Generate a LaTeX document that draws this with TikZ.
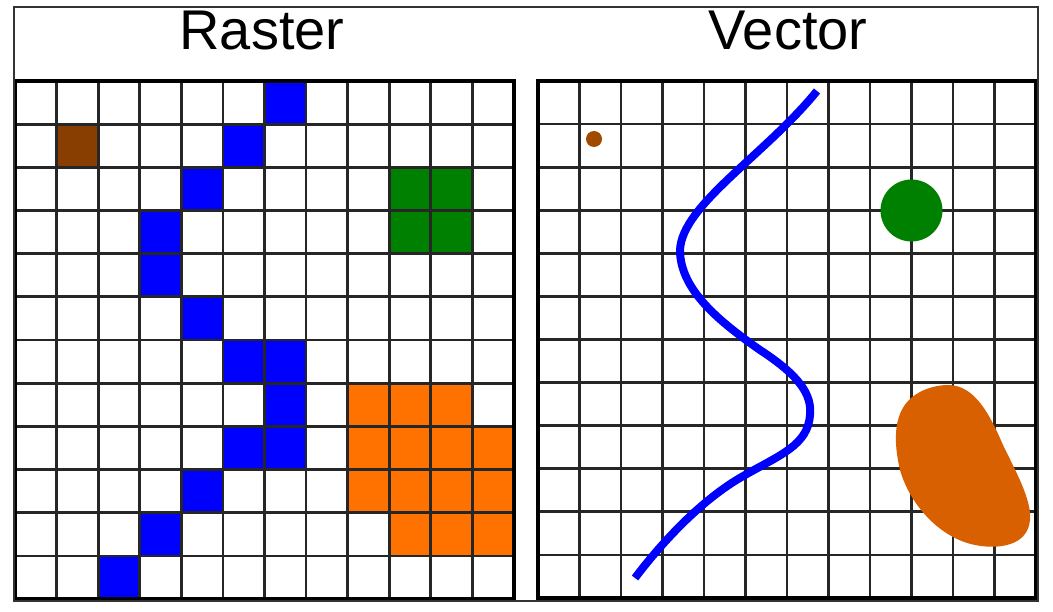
\documentclass[tikz,border=0pt]{standalone}
\usepackage{fontspec}
\setmainfont{Liberation Sans}
\definecolor{rbrown}{RGB}{135,62,0}
\definecolor{vbrown}{RGB}{160,74,0}
\definecolor{rgreen}{RGB}{0,128,0}
\definecolor{rorange}{RGB}{255,114,0}
\definecolor{vorange}{RGB}{217,96,0}
\definecolor{rblue}{RGB}{0,0,255}
\begin{document}
\begin{tikzpicture}[x=1pt,y=-1pt,
  gridline/.style={line width=2.7pt,black!85},
  title/.style={font=\fontsize{56}{60}\selectfont,inner sep=0pt,anchor=base}]
\useasboundingbox (0,0) rectangle (1053,612);
\fill[white] (0,0) rectangle (1053,612);
% raster cells
\def\LX{15}\def\LY{81}\def\LW{41.58}\def\LH{43.17}
\newcommand\rcell[3]{\fill[#3] (\LX+#1*\LW,\LY+#2*\LH) rectangle ++(\LW,\LH);}
\rcell{1}{1}{rbrown}
\foreach \c/\r in {6/0,5/1,4/2,3/3,3/4,4/5,5/6,6/6,6/7,5/8,6/8,4/9,3/10,2/11}{\rcell{\c}{\r}{rblue}}
\foreach \c/\r in {9/2,10/2,9/3,10/3}{\rcell{\c}{\r}{rgreen}}
\foreach \c/\r in {8/7,9/7,10/7,8/8,9/8,10/8,11/8,8/9,9/9,10/9,11/9,9/10,10/10,11/10}{\rcell{\c}{\r}{rorange}}
% raster grid
\foreach \i in {0,...,12}{
  \draw[gridline] (\LX+\i*\LW,\LY) -- (\LX+\i*\LW,\LY+12*\LH);
  \draw[gridline] (\LX,\LY+\i*\LH) -- (\LX+12*\LW,\LY+\i*\LH);}
\draw[line width=3.2pt] (\LX,\LY) rectangle (\LX+12*\LW,\LY+12*\LH);
% vector grid
\def\RX{538}\def\RY{81}\def\RW{41.5}\def\RH{43.08}
\foreach \i in {0,...,12}{
  \draw[gridline] (\RX+\i*\RW,\RY) -- (\RX+\i*\RW,\RY+12*\RH);
  \draw[gridline] (\RX,\RY+\i*\RH) -- (\RX+12*\RW,\RY+\i*\RH);}
\draw[line width=3.2pt] (\RX,\RY) rectangle (\RX+12*\RW,\RY+12*\RH);
% vector features
\fill[vbrown] (594,139) circle (8);
\fill[rgreen] (911.5,210.5) circle (31);
\draw[rblue,line width=8pt] (817,91) .. controls (765,155) and (682,205) .. (680,250)
  .. controls (680,290) and (720,322) .. (760,350)
  .. controls (800,376) and (812,395) .. (810,415)
  .. controls (808,445) and (780,455) .. (745,475)
  .. controls (700,500) and (660,545) .. (635,578);
\fill[vorange] (948,385) .. controls (975,385) and (990,415) .. (1003,445)
  .. controls (1015,470) and (1032,500) .. (1030,520)
  .. controls (1028,545) and (1000,550) .. (975,545)
  .. controls (940,538) and (910,505) .. (900,470)
  .. controls (893,440) and (893,410) .. (915,395)
  .. controls (925,388) and (938,385) .. (948,385) -- cycle;
% frame and titles
\draw[line width=1.5pt,black!80] (14,7) rectangle (1038,601);
\node[title] (raster) at (262,50) {Raster};
\node[title] (vector) at (788,50) {Vector};
\end{tikzpicture}
\end{document}
